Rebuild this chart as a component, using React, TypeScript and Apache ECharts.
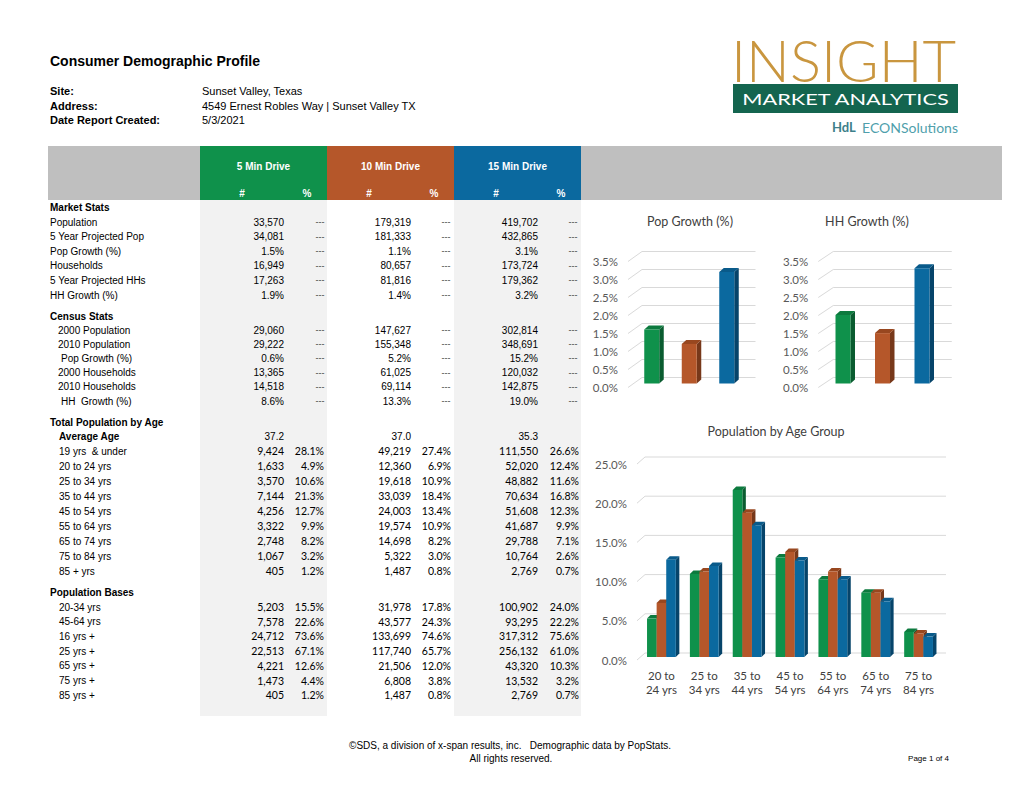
import React, { useEffect, useRef } from "react";
import * as echarts from "echarts";

// ---------- data ----------
const driveNames = ["5 Min Drive", "10 Min Drive", "15 Min Drive"];
const driveColors = ["#0f914b", "#b5572a", "#0b699f"];
const driveSideColors = ["#0a5c30", "#77381a", "#06446a"];
const driveTopColors = ["#0c7a3e", "#98471f", "#095a8a"];

const marketLabels = ["Population", "5 Year Projected Pop", "Pop Growth (%)", "Households", "5 Year Projected HHs", "HH Growth (%)"];
const marketKinds = ["n", "n", "p", "n", "n", "p"];
const market5 = [33570, 34081, 1.5, 16949, 17263, 1.9];
const market10 = [179319, 181333, 1.1, 80657, 81816, 1.4];
const market15 = [419702, 432865, 3.1, 173724, 179362, 3.2];

const censusLabels = ["2000 Population", "2010 Population", "Pop Growth (%)", "2000 Households", "2010 Households", "HH  Growth (%)"];
const censusKinds = ["n", "n", "p", "n", "n", "p"];
const census5 = [29060, 29222, 0.6, 13365, 14518, 8.6];
const census10 = [147627, 155348, 5.2, 61025, 69114, 13.3];
const census15 = [302814, 348691, 15.2, 120032, 142875, 19.0];

const averageAge = [37.2, 37.0, 35.3];
const ageLabels = ["19 yrs  & under", "20 to 24 yrs", "25 to 34 yrs", "35 to 44 yrs", "45 to 54 yrs", "55 to 64 yrs", "65 to 74 yrs", "75 to 84 yrs", "85 + yrs"];
const age5 = [9424, 1633, 3570, 7144, 4256, 3322, 2748, 1067, 405];
const age5Pct = [28.1, 4.9, 10.6, 21.3, 12.7, 9.9, 8.2, 3.2, 1.2];
const age10 = [49219, 12360, 19618, 33039, 24003, 19574, 14698, 5322, 1487];
const age10Pct = [27.4, 6.9, 10.9, 18.4, 13.4, 10.9, 8.2, 3.0, 0.8];
const age15 = [111550, 52020, 48882, 70634, 51608, 41687, 29788, 10764, 2769];
const age15Pct = [26.6, 12.4, 11.6, 16.8, 12.3, 9.9, 7.1, 2.6, 0.7];

const baseLabels = ["20-34 yrs", "45-64 yrs", "16 yrs +", "25 yrs +", "65 yrs +", "75 yrs +", "85 yrs +"];
const base5 = [5203, 7578, 24712, 22513, 4221, 1473, 405];
const base5Pct = [15.5, 22.6, 73.6, 67.1, 12.6, 4.4, 1.2];
const base10 = [31978, 43577, 133699, 117740, 21506, 6808, 1487];
const base10Pct = [17.8, 24.3, 74.6, 65.7, 12.0, 3.8, 0.8];
const base15 = [100902, 93295, 317312, 256132, 43320, 13532, 2769];
const base15Pct = [24.0, 22.2, 75.6, 61.0, 10.3, 3.2, 0.7];

const growthTicks = [0, 0.5, 1, 1.5, 2, 2.5, 3, 3.5];
const ageTicks = [0, 5, 10, 15, 20, 25];

// chart series derived from the table
const popGrowth = [market5[2], market10[2], market15[2]];
const hhGrowth = [market5[5], market10[5], market15[5]];
const chartAgeGroups = ageLabels.slice(1, 8);
const chartAgePct = [age5Pct.slice(1, 8), age10Pct.slice(1, 8), age15Pct.slice(1, 8)];

// ---------- layout ----------
const FA = "'Liberation Sans', Arial, sans-serif";
const FC = "Lato, 'Open Sans', sans-serif";
const numRight = [284, 411, 538];
const dashCenter = [320, 446, 573];
const pctRight = [324, 451, 579];
const colLeft = [200, 327, 454];
const colW = 127;

const fmtN = (n: number) => n.toLocaleString("en-US");
const fmtP = (v: number) => v.toFixed(1) + "%";

function T(text: string, x: number, y: number, o: any = {}) {
  return {
    type: "text",
    x,
    y,
    silent: true,
    style: {
      text,
      fill: o.fill || "#000",
      fontSize: o.size || 10,
      fontFamily: o.family || FA,
      fontWeight: o.bold ? "bold" : o.weight || "normal",
      textAlign: o.align || "left",
      textVerticalAlign: "middle",
    },
    ...(o.scaleX ? { scaleX: o.scaleX } : {}),
  };
}

function buildGraphics() {
  const g: any[] = [];
  // header block
  g.push({ type: "rect", silent: true, shape: { x: 48, y: 146, width: 954, height: 54 }, style: { fill: "#bfbfbf" } });
  for (let d = 0; d < 3; d++) {
    g.push({ type: "rect", silent: true, shape: { x: colLeft[d], y: 146, width: colW, height: 54 }, style: { fill: driveColors[d] } });
    g.push(T(driveNames[d], colLeft[d] + colW / 2, 166, { fill: "#fff", bold: true, align: "center" }));
    g.push(T("#", colLeft[d] + 42, 193, { fill: "#fff", bold: true, align: "center" }));
    g.push(T("%", colLeft[d] + 107, 193, { fill: "#fff", bold: true, align: "center" }));
  }
  // light columns
  [0, 2].forEach((d) => {
    g.push({ type: "rect", silent: true, z: -1, shape: { x: colLeft[d], y: 200, width: colW, height: 516 }, style: { fill: "#f2f2f2" } });
  });

  // title block
  g.push(T("Consumer Demographic Profile", 50, 61, { size: 14, bold: true }));
  g.push(T("Site:", 50, 91, { size: 11, bold: true }));
  g.push(T("Address:", 50, 106, { size: 11, bold: true }));
  g.push(T("Date Report Created:", 50, 120, { size: 11, bold: true }));
  g.push(T("Sunset Valley, Texas", 202, 91, { size: 11 }));
  g.push(T("4549 Ernest Robles Way | Sunset Valley TX", 202, 106, { size: 11 }));
  g.push(T("5/3/2021", 202, 120, { size: 11 }));

  // logo
  g.push(T("INSIGHT", 731, 59, { size: 58, family: FC, weight: 300, fill: "#c9963f" }));
  g.push({ type: "rect", silent: true, shape: { x: 733, y: 84, width: 225, height: 29 }, style: { fill: "#14654f" } });
  g.push(T("MARKET ANALYTICS", 845.5, 99.5, { size: 15, family: FC, fill: "#fff", align: "center", scaleX: 1.45 }));
  g.push(T("HdL", 832, 127, { size: 13, family: FC, bold: true, fill: "#3d7f8a" }));
  g.push(T("ECONSolutions", 958, 127, { size: 14, family: FC, fill: "#4f9fac", align: "right" }));

  // market stats
  g.push(T("Market Stats", 50, 207, { bold: true }));
  const mk = [market5, market10, market15];
  marketLabels.forEach((lab, i) => {
    const y = 222 + i * 14.6;
    g.push(T(lab, 50, y));
    for (let d = 0; d < 3; d++) {
      const v = mk[d][i];
      g.push(T(marketKinds[i] === "n" ? fmtN(v) : fmtP(v), numRight[d], y, { align: "right" }));
      g.push(T("---", dashCenter[d], y, { align: "center", size: 9, fill: "#444" }));
    }
  });

  // census stats
  g.push(T("Census Stats", 50, 316, { bold: true }));
  const cs = [census5, census10, census15];
  censusLabels.forEach((lab, i) => {
    const y = 330 + i * 14.2;
    const indent = censusKinds[i] === "p" ? 61 : 58;
    g.push(T(lab, indent, y));
    for (let d = 0; d < 3; d++) {
      const v = cs[d][i];
      g.push(T(censusKinds[i] === "n" ? fmtN(v) : fmtP(v), numRight[d], y, { align: "right" }));
      g.push(T("---", dashCenter[d], y, { align: "center", size: 9, fill: "#444" }));
    }
  });

  // population by age
  g.push(T("Total Population by Age", 50, 422, { bold: true }));
  g.push(T("Average Age", 59, 436.5, { bold: true }));
  for (let d = 0; d < 3; d++) g.push(T(averageAge[d].toFixed(1), numRight[d], 436.5, { align: "right" }));
  const an = [age5, age10, age15];
  const ap = [age5Pct, age10Pct, age15Pct];
  ageLabels.forEach((lab, i) => {
    const y = 451 + i * 15;
    g.push(T(lab, 59, y));
    for (let d = 0; d < 3; d++) {
      g.push(T(fmtN(an[d][i]), numRight[d], y, { align: "right", family: FC, size: 10.5 }));
      g.push(T(fmtP(ap[d][i]), pctRight[d], y, { align: "right", family: FC, size: 10.5 }));
    }
  });

  // population bases
  g.push(T("Population Bases", 50, 592, { bold: true }));
  const bn = [base5, base10, base15];
  const bp = [base5Pct, base10Pct, base15Pct];
  baseLabels.forEach((lab, i) => {
    const y = 607 + i * 14.7;
    g.push(T(lab, 59, y));
    for (let d = 0; d < 3; d++) {
      g.push(T(fmtN(bn[d][i]), numRight[d], y, { align: "right", family: FC, size: 10.5 }));
      g.push(T(fmtP(bp[d][i]), pctRight[d], y, { align: "right", family: FC, size: 10.5 }));
    }
  });

  // chart titles
  g.push(T("Pop Growth (%)", 690, 221, { size: 12.5, family: FC, fill: "#404040", align: "center" }));
  g.push(T("HH Growth (%)", 867, 221, { size: 12.5, family: FC, fill: "#404040", align: "center" }));
  g.push(T("Population by Age Group", 776, 431, { size: 12.5, family: FC, fill: "#404040", align: "center" }));

  // footer
  g.push(T("\u00A9SDS, a division of x-span results, inc.   Demographic data by PopStats.", 510, 745, { size: 10, align: "center" }));
  g.push(T("All rights reserved.", 511, 758, { size: 10, align: "center" }));
  g.push(T("Page 1 of 4", 949, 758, { size: 8, align: "right" }));
  return g;
}

// 3D-looking column
function bar3D(fixedColor: number | null, w: number, offX: number, lift: number, dx: number, dy: number) {
  return (params: any, api: any) => {
    const idx = api.value(0);
    const ci = fixedColor === null ? idx : fixedColor;
    const [cx, cy] = api.coord([idx, api.value(1)]);
    const base = api.coord([idx, 0])[1];
    const l = cx + offX - w / 2;
    const r = l + w;
    const t = cy - lift;
    const b = base - lift;
    return {
      type: "group",
      children: [
        { type: "polygon", shape: { points: [[r, t], [r + dx, t - dy], [r + dx, b - dy], [r, b]] }, style: { fill: driveSideColors[ci] } },
        { type: "polygon", shape: { points: [[l, t], [l + dx, t - dy], [r + dx, t - dy], [r, t]] }, style: { fill: driveTopColors[ci] } },
        { type: "rect", shape: { x: l, y: t, width: w, height: b - t }, style: { fill: driveColors[ci] } },
      ],
    };
  };
}

// slanted 3D gridline
function grid3D(fx: number, bx: number, ex: number, dy: number) {
  return (params: any, api: any) => {
    const c = params.coordSys;
    const y = api.coord([0, api.value(1)])[1];
    return {
      type: "polyline",
      shape: { points: [[c.x + fx, y], [c.x + bx, y - dy], [c.x + c.width + ex, y - dy]] },
      style: { stroke: "#d9d9d9", lineWidth: 1, fill: "none" },
    };
  };
}

const yLabel = (margin: number) => ({
  margin,
  color: "#595959",
  fontFamily: FC,
  fontSize: 11.5,
  formatter: (v: number) => v.toFixed(1) + "%",
});

function buildOption() {
  return {
    animation: false,
    backgroundColor: "#ffffff",
    graphic: buildGraphics(),
    grid: [
      { left: 633, top: 261.5, width: 112.5, height: 126 },
      { left: 823.25, top: 261.5, width: 118.5, height: 126 },
      { left: 640, top: 464, width: 300, height: 196 },
    ],
    xAxis: [
      { type: "category", gridIndex: 0, data: driveNames, axisLine: { show: false }, axisTick: { show: false }, axisLabel: { show: false } },
      { type: "category", gridIndex: 1, data: driveNames, axisLine: { show: false }, axisTick: { show: false }, axisLabel: { show: false } },
      {
        type: "category",
        gridIndex: 2,
        data: chartAgeGroups,
        axisLine: { show: false },
        axisTick: { show: false },
        axisLabel: {
          margin: 9,
          interval: 0,
          color: "#404040",
          fontFamily: FC,
          fontSize: 11.5,
          lineHeight: 13.5,
          formatter: (s: string) => s.replace(" to ", " to\n"),
        },
      },
    ],
    yAxis: [
      { type: "value", gridIndex: 0, min: 0, max: 3.5, interval: 0.5, splitLine: { show: false }, axisLabel: yLabel(15) },
      { type: "value", gridIndex: 1, min: 0, max: 3.5, interval: 0.5, splitLine: { show: false }, axisLabel: yLabel(15) },
      { type: "value", gridIndex: 2, min: 0, max: 25, interval: 5, splitLine: { show: false }, axisLabel: yLabel(13) },
    ],
    series: [
      { type: "custom", xAxisIndex: 0, yAxisIndex: 0, clip: false, silent: true, z: 1, data: growthTicks.map((v) => [0, v]), renderItem: grid3D(-5, 9, 10, 10) },
      { type: "custom", xAxisIndex: 1, yAxisIndex: 1, clip: false, silent: true, z: 1, data: growthTicks.map((v) => [0, v]), renderItem: grid3D(-5, 10, 10, 10) },
      { type: "custom", xAxisIndex: 2, yAxisIndex: 2, clip: false, silent: true, z: 1, data: ageTicks.map((v) => [0, v]), renderItem: grid3D(-3, 5, 6, 7) },
      { type: "custom", name: "Pop Growth (%)", xAxisIndex: 0, yAxisIndex: 0, clip: false, z: 2, data: popGrowth.map((v, i) => [i, v]), renderItem: bar3D(null, 15, 0, 4, 4.5, 4) },
      { type: "custom", name: "HH Growth (%)", xAxisIndex: 1, yAxisIndex: 1, clip: false, z: 2, data: hhGrowth.map((v, i) => [i, v]), renderItem: bar3D(null, 15, 0, 4, 4.5, 4) },
      ...[0, 1, 2].map((d) => ({
        type: "custom",
        name: driveNames[d],
        xAxisIndex: 2,
        yAxisIndex: 2,
        clip: false,
        z: 2 + d,
        data: chartAgePct[d].map((v, i) => [i, v]),
        renderItem: bar3D(d, 9.6, (d - 1) * 9.6, 3, 3.5, 3.5),
      })),
    ],
  };
}

export default function App() {
  const ref = useRef<HTMLDivElement>(null);
  useEffect(() => {
    if (!ref.current) return;
    const chart = echarts.init(ref.current, null, { renderer: "svg" });
    chart.setOption(buildOption() as any);
    return () => chart.dispose();
  }, []);
  return (
    <div
      ref={ref}
      style={{ position: "fixed", left: 0, top: 0, width: 1020, height: 788, background: "#fff" }}
    />
  );
}
